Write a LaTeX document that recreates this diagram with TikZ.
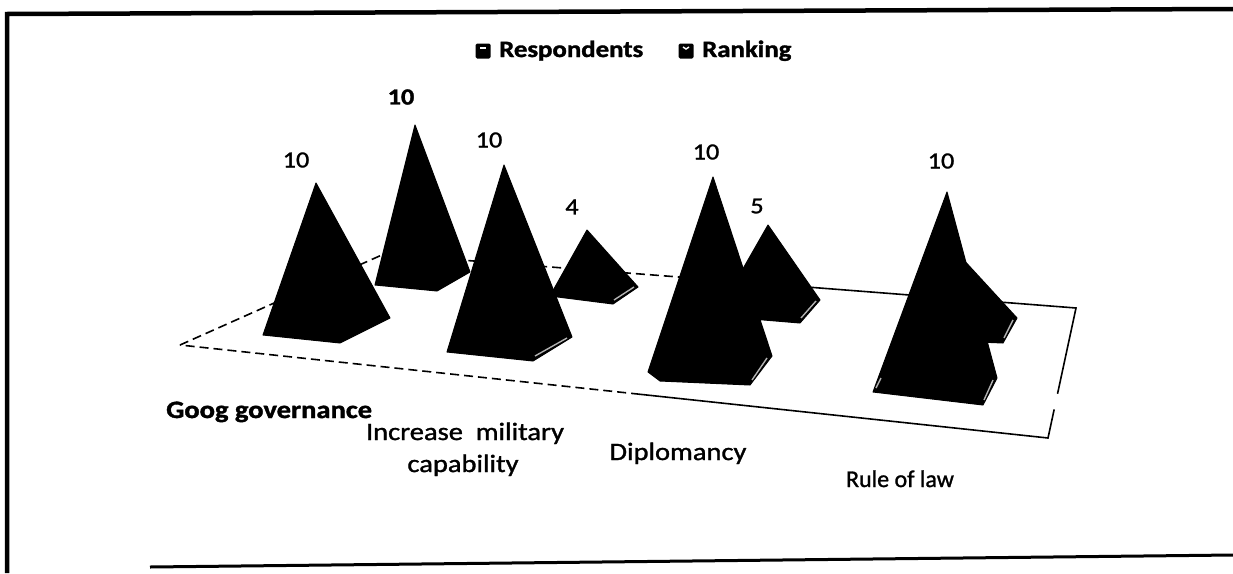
\documentclass[tikz,border=0pt]{standalone}
\usepackage{fontspec}
\setmainfont{Carlito}
\newfontfamily\heavyfont[FakeBold=1.2,BoldFeatures={FakeBold=1.4}]{Carlito}
\usepackage{graphicx}
\usetikzlibrary{calc}
\newcommand{\sx}[1]{\scalebox{1.14}[1]{#1}}
\begin{document}
\begin{tikzpicture}[x=1pt,y=-1pt,
  frameline/.style={line width=4.5pt,black,line join=miter},
  flooredge/.style={line width=1.6pt,black},
  floordash/.style={flooredge,dash pattern=on 9pt off 5pt},
  pyr/.style={fill=black,draw=black,line width=1pt,line join=round},
  glint/.style={draw=white!70!black,line width=1.4pt},
  val/.style={font=\heavyfont\fontsize{23}{26}\selectfont,inner sep=0pt},
  cat/.style={font=\heavyfont\fontsize{25}{30}\selectfont,inner sep=0pt},
  leg/.style={font=\heavyfont\bfseries\fontsize{23.5}{26}\selectfont,inner sep=0pt,anchor=base west},
  legbox/.style={fill=black,rounded corners=1.5pt,minimum size=15pt,inner sep=0pt}]
\useasboundingbox (0,0) rectangle (1233,573);
\fill[white] (0,0) rectangle (1233,573);
% frame
\coordinate (tl) at (7,14);
\coordinate (tr) at (1233,9);
\coordinate (bl) at (7,573);
\coordinate (bb1) at (150,567);
\coordinate (bb2) at (1233,555);
\draw[frameline] (bl) -- (tl) -- (tr);
\draw[line width=3pt] (bb1) -- (bb2);
% legend
\node[legbox] (lg1) at (483,51) {};
\draw[white,line width=1.4pt] ($(lg1.center)+(-3,-3)$) -- ($(lg1.center)+(3,-3)$);
\node[leg] (lt1) at (499,57) {\sx{Respondents}};
\node[legbox] (lg2) at (686,51) {};
\draw[white,line width=1.4pt] ($(lg2.center)+(-3,-4)$) -- ($(lg2.center)+(0,-2)$) -- ($(lg2.center)+(3,-4)$);
\node[leg] (lt2) at (702,57) {\sx{Ranking}};
% floor
\coordinate (fL) at (180,345);
\coordinate (fB) at (384,254);
\coordinate (fR) at (1076,308);
\coordinate (fF) at (1048,438);
\coordinate (fBm) at ($(fB)!0.47!(fR)$);
\coordinate (fFm) at ($(fL)!0.53!(fF)$);
\coordinate (fRa) at ($(fR)!0.66!(fF)$);
\coordinate (fRb) at ($(fR)!0.78!(fF)$);
\draw[floordash] (fL) -- (fB) -- (fBm);
\draw[flooredge] (fBm) -- (fR) -- (fRa);
\draw[flooredge] (fRb) -- (fF) -- (fFm);
\draw[floordash] (fFm) -- (fL);
% back row (Ranking)
\filldraw[pyr] (415,125) -- (375,285) -- (437,291) -- (470,272) -- cycle;
\filldraw[pyr] (587,230) -- (550,296) -- (613,304) -- (638,287) -- cycle;
\draw[glint] (614,300) -- (634,287);
\filldraw[pyr] (768,225) -- (716,316) -- (800,323) -- (820,300) -- cycle;
\draw[glint] (801,318) -- (816,301);
\filldraw[pyr] (960,256) -- (930,340) -- (1003,343) -- (1017,318) -- cycle;
\draw[glint] (1004,338) -- (1013,320);
% front row (Respondents)
\filldraw[pyr] (316,183) -- (263,335) -- (340,343) -- (390,318) -- cycle;
\filldraw[pyr] (504,165) -- (447,352) -- (533,361) -- (572,337) -- cycle;
\draw[glint] (535,356) -- (567,338);
\filldraw[pyr] (713,177) -- (648,372) -- (660,381) -- (750,385) -- (772,356) -- cycle;
\draw[glint] (752,380) -- (767,358);
\filldraw[pyr] (947,192) -- (873,392) -- (983,405) -- (997,378) -- cycle;
\draw[glint] (984,400) -- (993,380);
\draw[glint] (876,388) -- (881,378);
% value labels
\node[val] (v1) at (296,160) {\sx{10}};
\node[val,font=\heavyfont\bfseries\fontsize{23}{26}\selectfont] (v2) at (401,97) {\sx{10}};
\node[val] (v3) at (489,140) {\sx{10}};
\node[val] (v4) at (572,207) {\sx{4}};
\node[val] (v5) at (706,152) {\sx{10}};
\node[val] (v6) at (757,206) {\sx{5}};
\node[val] (v7) at (941,161) {\sx{10}};
% category labels
\node[cat,font=\heavyfont\bfseries\fontsize{25}{30}\selectfont,anchor=base west] (c1) at (166,418) {\sx{Goog governance}};
\node[cat,anchor=base] (c2a) at (465,440) {\sx{Increase\ \ military}};
\node[cat,anchor=base] (c2b) at (463,472) {\sx{capability}};
\node[cat,anchor=base] (c3) at (678,460) {\sx{Diplomancy}};
\node[cat,font=\heavyfont\fontsize{24}{30}\selectfont,anchor=base] (c4) at (900,487) {Rule of law};
\end{tikzpicture}
\end{document}
